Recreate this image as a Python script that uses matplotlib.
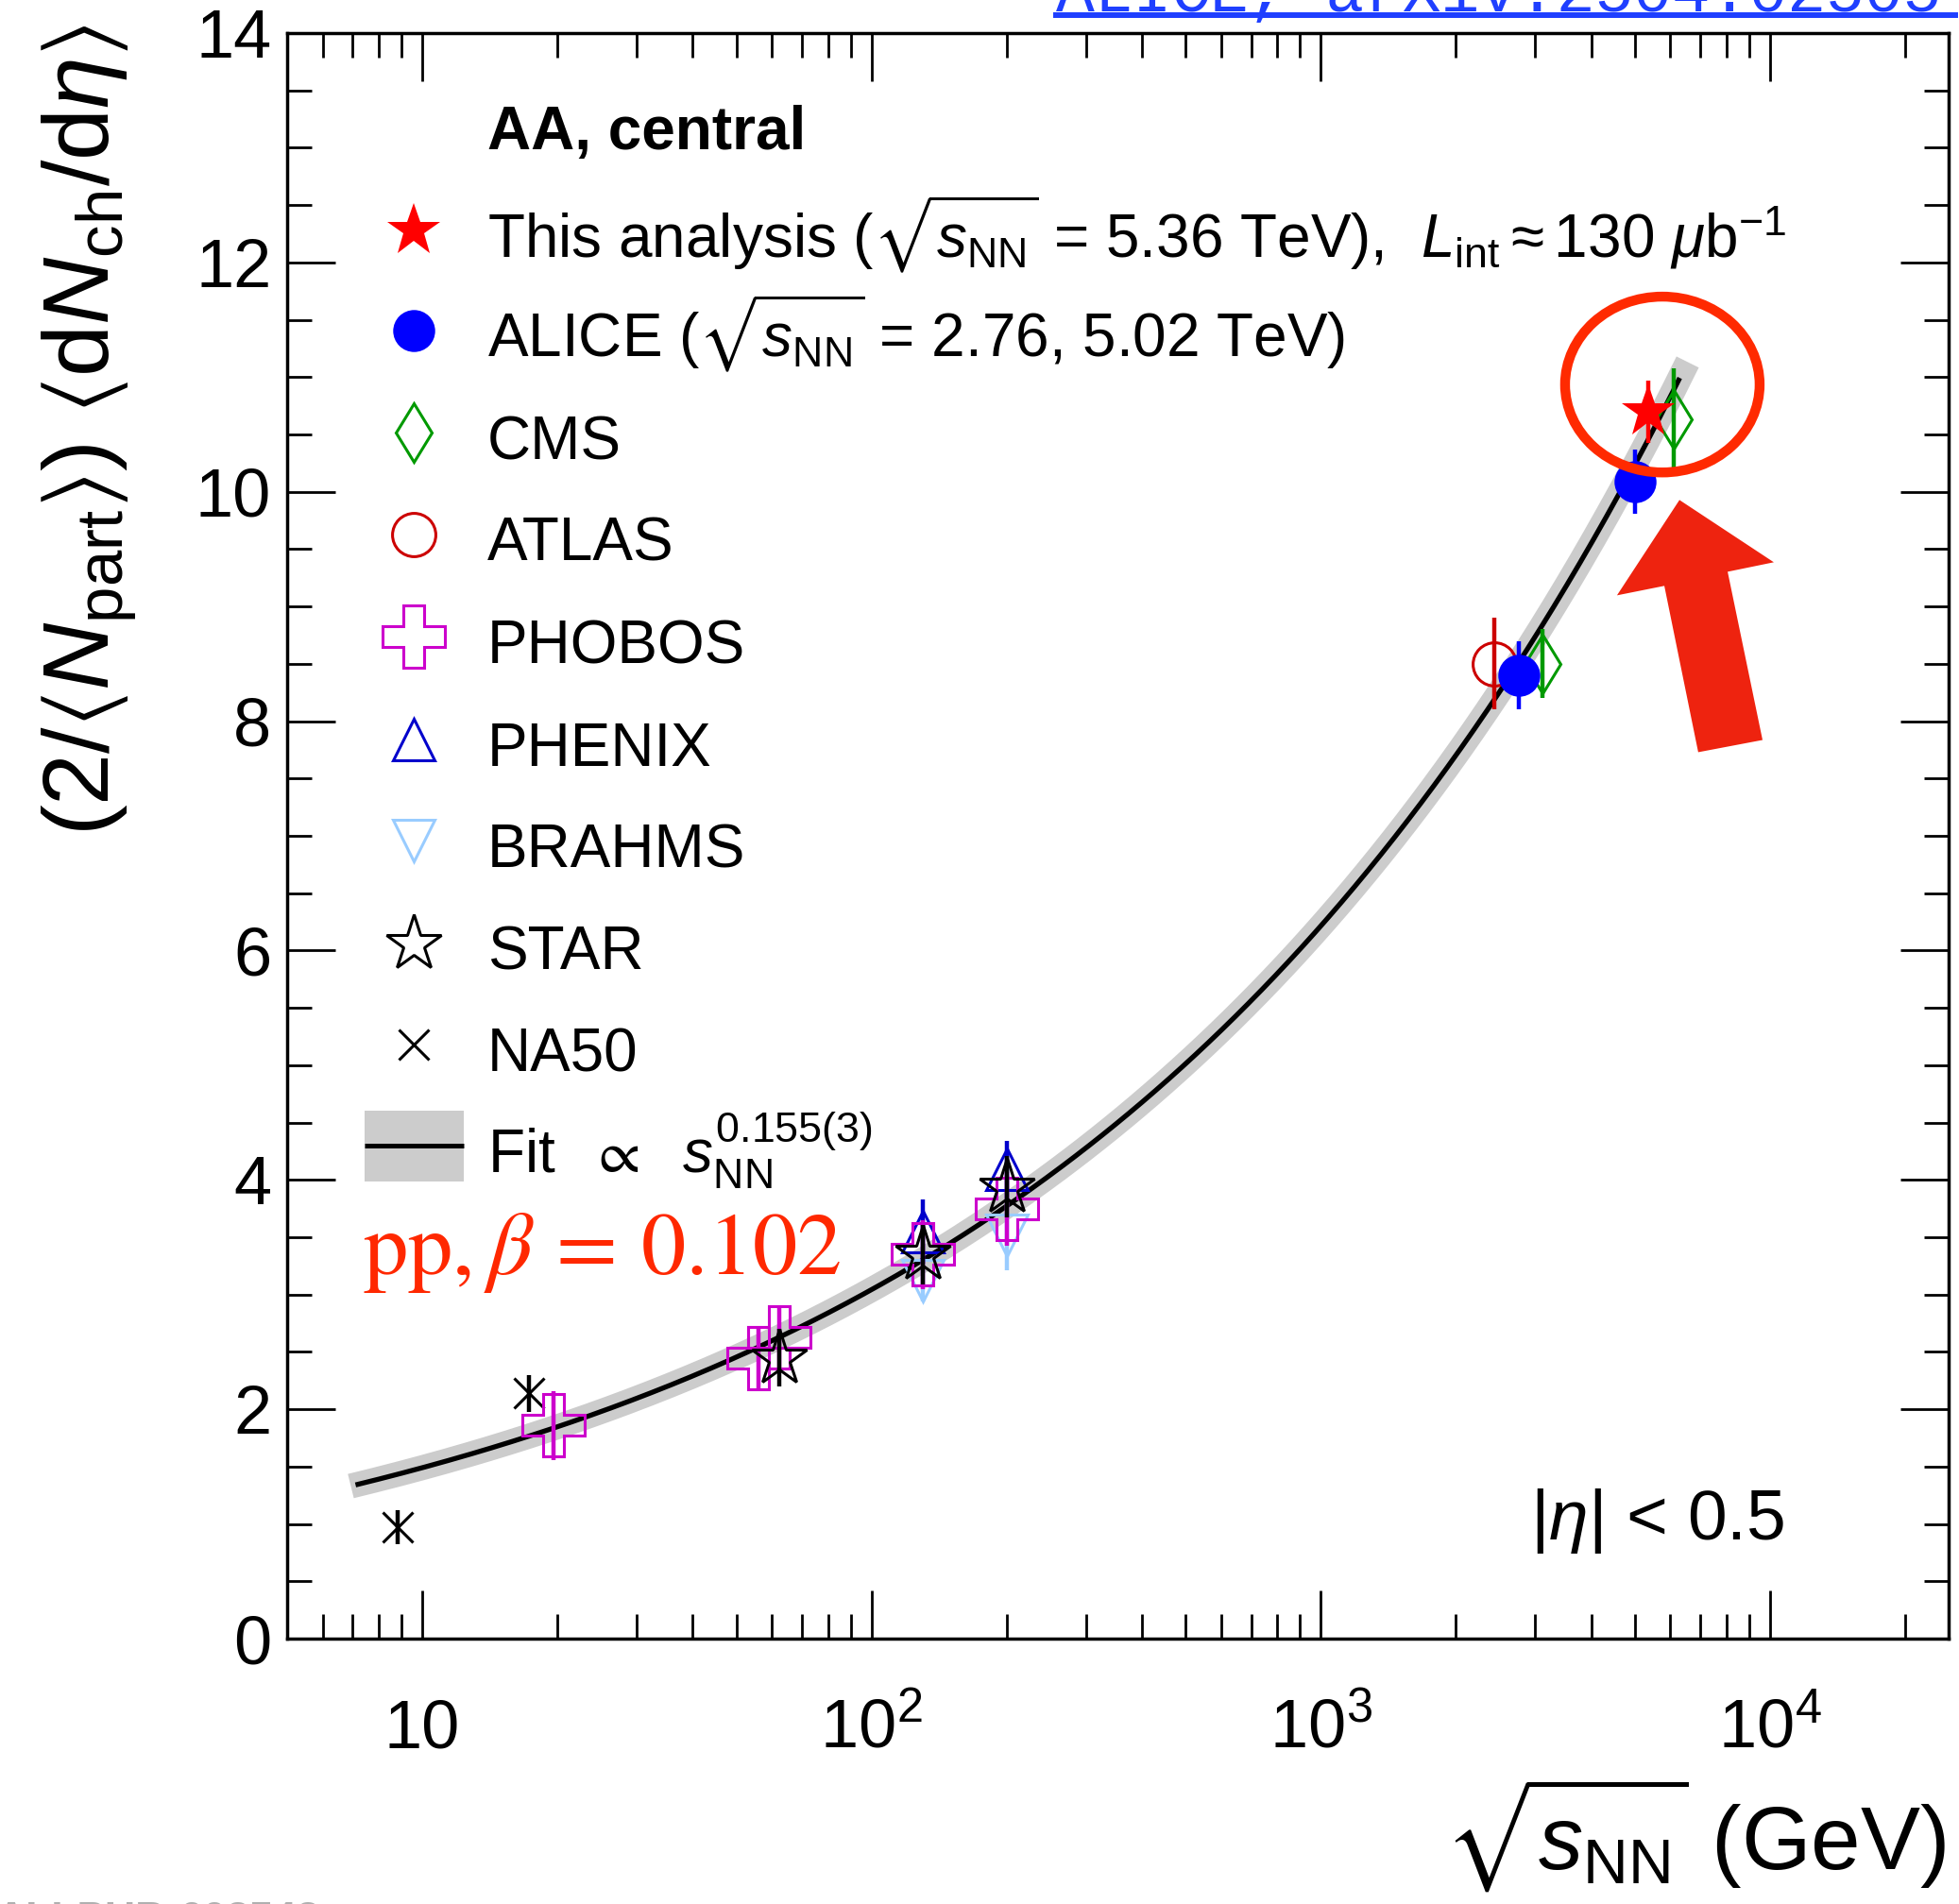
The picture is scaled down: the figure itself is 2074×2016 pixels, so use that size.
import numpy as np
import matplotlib
matplotlib.use('Agg')
import matplotlib.pyplot as plt
from matplotlib.patches import Ellipse, Polygon, Rectangle
from matplotlib.lines import Line2D
from matplotlib.ticker import MultipleLocator, LogLocator, NullFormatter

plt.rcParams['font.family'] = ['Liberation Sans', 'DejaVu Sans']
plt.rcParams['mathtext.fontset'] = 'custom'
plt.rcParams['mathtext.rm'] = 'Liberation Sans'
plt.rcParams['mathtext.it'] = 'Liberation Sans:italic'
plt.rcParams['mathtext.bf'] = 'Liberation Sans:bold'
plt.rcParams['mathtext.sf'] = 'Liberation Sans'
plt.rcParams['mathtext.fallback'] = 'stixsans'

# ---------------- data (sqrt(s_NN) in GeV, value, uncertainty) ----------------
this_x = [5360]
this_y = [10.70]
this_err = [0.27]

alice_x = [2760, 5020]
alice_y = [8.40, 10.09]
alice_err = [0.30, 0.28]

cms_x = [3120, 6110]
cms_y = [8.50, 10.63]
cms_err = [0.30, 0.45]

atlas_x = [2430]
atlas_y = [8.50]
atlas_err = [0.40]

phobos_x = [19.6, 56, 62.4, 130, 200]
phobos_y = [1.86, 2.45, 2.63, 3.35, 3.75]
phobos_err = [0.30, 0.27, 0.27, 0.30, 0.32]

phenix_x = [130, 200]
phenix_y = [3.55, 4.09]
phenix_err = [0.28, 0.25]

brahms_x = [130, 200]
brahms_y = [3.12, 3.52]
brahms_err = [0.18, 0.31]

star_x = [62.4, 130, 200]
star_y = [2.45, 3.35, 3.94]
star_err = [0.25, 0.26, 0.27]

na50_x = [8.8, 17.3]
na50_y = [0.97, 2.14]
na50_err = [0.15, 0.16]

# power-law fit  (2/<Npart>) dN/deta = A * s_NN^0.155
fit_norm = 0.730
fit_exponent = 0.155
fit_range = (7.1, 6300)
band_range = (6.93, 6560)

xticks = [10, 100, 1000, 10000]
xtick_labels = ['10', r'$10^{2}$', r'$10^{3}$', r'$10^{4}$']
yticks = [0, 2, 4, 6, 8, 10, 12, 14]

# ---------------- figure ----------------
fig = plt.figure(figsize=(20.74, 20.16), dpi=100)
ax = fig.add_axes([0.14658, 0.13938, 0.84812, 0.84325])
ax.set_xscale('log')
ax.set_xlim(5, 25000)
ax.set_ylim(0, 14)

def fit_curve(sqrts):
    return fit_norm * (np.asarray(sqrts) ** 2) ** fit_exponent

xb = np.geomspace(band_range[0], band_range[1], 400)
ax.plot(xb, fit_curve(xb), color='#cccccc', lw=19, solid_capstyle='butt', zorder=1)
xf = np.geomspace(fit_range[0], fit_range[1], 400)
ax.plot(xf, fit_curve(xf), color='black', lw=3.8, solid_capstyle='butt', zorder=2)

series = [
    (na50_x, na50_y, na50_err, dict(marker='x', ms=23, mew=2.2, color='black', mfc='none'), 'NA50'),
    (brahms_x, brahms_y, brahms_err, dict(marker='v', ms=31, mew=2.2, color='#99ccff', mfc='none'), 'BRAHMS'),
    (phenix_x, phenix_y, phenix_err, dict(marker='^', ms=31, mew=2.2, color='#0000cc', mfc='none'), 'PHENIX'),
    (phobos_x, phobos_y, phobos_err, dict(marker='P', ms=47, mew=2.2, color='#cc00cc', mfc='none'), 'PHOBOS'),
    (star_x, star_y, star_err, dict(marker='*', ms=44, mew=2.2, color='black', mfc='none'), 'STAR'),
    (atlas_x, atlas_y, atlas_err, dict(marker='o', ms=33, mew=2.2, color='#cc0000', mfc='none'), 'ATLAS'),
    (cms_x, cms_y, cms_err, dict(marker='d', ms=32, mew=2.2, color='#009900', mfc='none'), 'CMS'),
    (alice_x, alice_y, alice_err, dict(marker='o', ms=32, mew=0, color='#0000ff'), 'ALICE'),
    (this_x, this_y, this_err, dict(marker='*', ms=42, mew=0, color='#ff0000'), 'This'),
]
styles = {}
for k, (x, y, e, st, name) in enumerate(series):
    ax.errorbar(x, y, yerr=e, fmt='none', ecolor=st['color'], elinewidth=3.2, capsize=0, zorder=3 + k)
    ax.plot(x, y, ls='none', zorder=3 + k, **st)
    styles[name] = st

# ---------------- axes styling ----------------
for s in ax.spines.values():
    s.set_linewidth(2.5)
ax.set_yticks(yticks)
ax.yaxis.set_minor_locator(MultipleLocator(0.5))
ax.set_xticks(xticks)
ax.xaxis.set_minor_locator(LogLocator(base=10, subs=np.arange(2, 10), numticks=30))
ax.xaxis.set_minor_formatter(NullFormatter())
ax.tick_params(which='major', length=37, width=2, direction='in', top=True, right=True)
ax.tick_params(which='minor', length=19, width=2, direction='in', top=True, right=True)
ax.tick_params(axis='y', labelsize=52, pad=12)
ax.tick_params(axis='x', labelbottom=False)
for xv, lab in zip(xticks, xtick_labels):
    ax.text(xv, -0.0677, lab, transform=ax.get_xaxis_transform(), ha='center',
            va='baseline', fontsize=52)

fig.text(0.9933, 0.0179, r'$\sqrt{s_{\mathrm{NN}}}$ (GeV)', ha='right', va='baseline', fontsize=68)
fig.text(0.0455, 0.987, r'$(2/\langle N_{\mathrm{part}}\rangle)\ \langle \mathrm{d}N_{\mathrm{ch}}/\mathrm{d}\eta\rangle$',
         rotation=90, ha='center', va='top', fontsize=71)

# ---------------- legend (manual, ROOT style) ----------------
mx, tx = 0.0762, 0.1205
ax.text(tx, 0.9278, 'AA, central', transform=ax.transAxes, fontsize=46, fontweight='bold', va='baseline')
rows = [
    ('This', r'This analysis ($\sqrt{s_{\mathrm{NN}}}$ = 5.36 TeV),  $L_{\mathrm{int}} \approx 130\ \mu\mathrm{b}^{-1}$'),
    ('ALICE', r'ALICE ($\sqrt{s_{\mathrm{NN}}}$ = 2.76, 5.02 TeV)'),
    ('CMS', 'CMS'),
    ('ATLAS', 'ATLAS'),
    ('PHOBOS', 'PHOBOS'),
    ('PHENIX', 'PHENIX'),
    ('BRAHMS', 'BRAHMS'),
    ('STAR', 'STAR'),
    ('NA50', 'NA50'),
]
row_y = [0.8771, 0.8148, 0.7509, 0.6877, 0.6239, 0.5600, 0.4970, 0.4331, 0.3700]
for (name, lab), yy in zip(rows, row_y):
    ax.plot([mx], [yy], ls='none', transform=ax.transAxes, clip_on=False, zorder=20, **styles[name])
    ax.text(tx, yy - 0.0165, lab, transform=ax.transAxes, fontsize=46, va='baseline')
fy = 0.3068
ax.add_patch(Rectangle((0.0466, fy - 0.0221), 0.0597, 0.0442, transform=ax.transAxes,
                       facecolor='#cccccc', edgecolor='none', zorder=20))
ax.plot([0.0466, 0.1063], [fy, fy], transform=ax.transAxes, color='black', lw=3.6,
        solid_capstyle='butt', zorder=21)
ax.text(tx, fy - 0.0165, r'Fit  $\propto$  $s_{\mathrm{NN}}^{0.155(3)}$', transform=ax.transAxes,
        fontsize=46, va='baseline')

ax.text(0.748, 0.062, r'$|\eta|$ < 0.5', transform=ax.transAxes, fontsize=54, va='baseline')

# ---------------- red annotations ----------------
ax.text(0.0455, 0.2272, r'$\mathrm{pp}, \beta\,=\,0.102$', transform=ax.transAxes, fontsize=68,
        color='#ff2800', va='baseline', math_fontfamily='stix')
ax.add_patch(Ellipse((0.8277, 0.7811), 0.1171, 0.1095, transform=ax.transAxes, fill=False,
                     edgecolor='#ff2a00', lw=7.5, zorder=30, clip_on=False))
arrow_pts = [(0.8380, 0.7092), (0.8948, 0.6704), (0.8670, 0.6645), (0.8880, 0.5597),
             (0.8493, 0.5521), (0.8289, 0.6557), (0.8004, 0.6498)]
ax.add_patch(Polygon(arrow_pts, closed=True, transform=ax.transAxes, facecolor='#ee230f',
                     edgecolor='none', zorder=30, clip_on=False))

# ---------------- reference link (clipped at top) & footer ----------------
fig.text(0.539, 1 - 12 / 2016, 'ALICE, arXiv:2504.02505', ha='left', va='baseline',
         fontsize=49, family='Liberation Mono', color='#1f3fff')
fig.add_artist(Line2D([1118 / 2074, 2070 / 2074], [1 - 16 / 2016, 1 - 16 / 2016],
                      color='#1f3fff', lw=4.3, transform=fig.transFigure))
fig.text(-0.002, 3 / 2016, 'ALI-PUB-603543', ha='left', va='top', fontsize=32,
         fontweight='bold', color='#b0b0b0')

fig.savefig('out.png', dpi=100)
